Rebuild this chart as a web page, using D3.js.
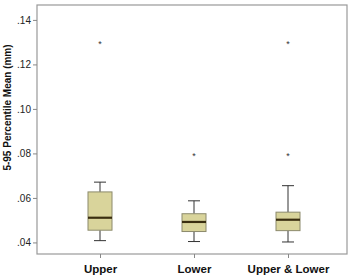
<!DOCTYPE html>
<html><head><meta charset="utf-8">
<script src="https://cdn.jsdelivr.net/npm/d3@7"></script>
<style>body{margin:0;background:#fff}svg{display:block}</style>
</head><body>
<script>
const categories = ["Upper", "Lower", "Upper & Lower"];
const whiskerLow = [0.0408, 0.0404, 0.0402];
const q1 = [0.0455, 0.0449, 0.0453];
const median = [0.0511, 0.0492, 0.0502];
const q3 = [0.0627, 0.0529, 0.0536];
const whiskerHigh = [0.0671, 0.0587, 0.0655];
const outliers = [[0.1298], [0.0793], [0.1298, 0.0793]];
const yTicks = [0.04, 0.06, 0.08, 0.10, 0.12, 0.14];
const yLabel = "5-95 Percentile Mean (mm)";

const W = 354, H = 277;
const mLeft = 37, mRight = 347, mTop = 5, mBottom = 254;
const svg = d3.select("body").append("svg").attr("width", W).attr("height", H);
const y = d3.scaleLinear().domain([0.0348, 0.1467]).range([mBottom, mTop]);
const x = d3.scalePoint().domain(categories).range([100, 288]);
const font = "Arial, 'Liberation Sans', sans-serif";

// frame
svg.append("rect").attr("x", mLeft).attr("y", mTop).attr("width", mRight - mLeft).attr("height", mBottom - mTop)
  .attr("fill", "none").attr("stroke", "#999").attr("stroke-width", 1.2);

// y axis
const ya = svg.append("g").attr("transform", `translate(${mLeft},0)`)
  .call(d3.axisLeft(y).tickValues(yTicks).tickSize(4).tickPadding(2)
    .tickFormat(d => d3.format(".2f")(d).replace(/^0/, "")));
ya.select(".domain").remove();
ya.selectAll("line").attr("stroke", "#888");
ya.selectAll("text").attr("font-family", font).attr("font-size", 10).attr("fill", "#222");

// x axis
const xa = svg.append("g").attr("transform", `translate(0,${mBottom})`)
  .call(d3.axisBottom(x).tickSize(4).tickPadding(7));
xa.select(".domain").remove();
xa.selectAll("line").attr("stroke", "#888");
xa.selectAll("text").attr("font-family", font).attr("font-size", 11.5).attr("font-weight", "bold").attr("fill", "#111");

// y label
svg.append("text").attr("transform", `translate(11,${(mTop + mBottom) / 2 - 22}) rotate(-90)`)
  .attr("text-anchor", "middle").attr("font-family", font).attr("font-size", 10).attr("font-weight", "bold")
  .attr("fill", "#111").text(yLabel);

const bw = 24, cw = 12;
categories.forEach((c, i) => {
  const cx = x(c);
  const g = svg.append("g");
  g.append("line").attr("x1", cx).attr("x2", cx).attr("y1", y(whiskerHigh[i])).attr("y2", y(q3[i])).attr("stroke", "#333");
  g.append("line").attr("x1", cx).attr("x2", cx).attr("y1", y(q1[i])).attr("y2", y(whiskerLow[i])).attr("stroke", "#333");
  g.append("line").attr("x1", cx - cw / 2).attr("x2", cx + cw / 2).attr("y1", y(whiskerHigh[i])).attr("y2", y(whiskerHigh[i])).attr("stroke", "#333");
  g.append("line").attr("x1", cx - cw / 2).attr("x2", cx + cw / 2).attr("y1", y(whiskerLow[i])).attr("y2", y(whiskerLow[i])).attr("stroke", "#333");
  g.append("rect").attr("x", cx - bw / 2).attr("y", y(q3[i])).attr("width", bw).attr("height", y(q1[i]) - y(q3[i]))
    .attr("fill", "#d9d49b").attr("stroke", "#8c8a6c");
  g.append("line").attr("x1", cx - bw / 2).attr("x2", cx + bw / 2).attr("y1", y(median[i])).attr("y2", y(median[i]))
    .attr("stroke", "#3a2e10").attr("stroke-width", 2.2);
  outliers[i].forEach(v => {
    g.append("text").attr("x", cx).attr("y", y(v) + 4).attr("text-anchor", "middle")
      .attr("font-family", font).attr("font-size", 9).attr("fill", "#333").text("*");
  });
});
</script>
</body></html>
